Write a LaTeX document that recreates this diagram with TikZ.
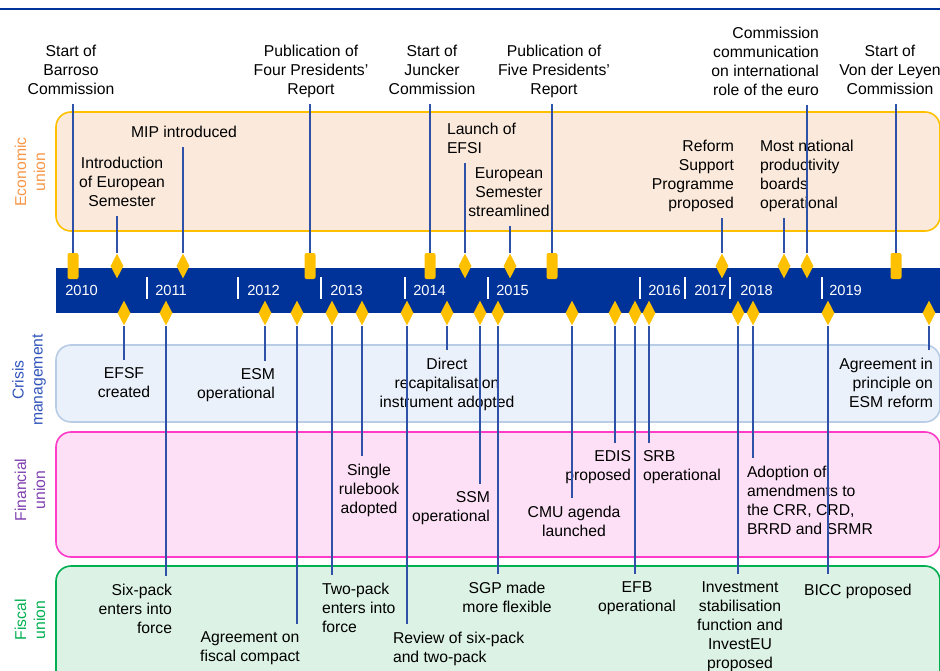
\documentclass[tikz,border=0pt]{standalone}
\usepackage{fontspec}
\setmainfont{Liberation Sans}
\usepackage{tikz}
\usetikzlibrary{shapes.geometric}

\definecolor{eublue}{RGB}{0,51,153}
\definecolor{evgold}{RGB}{255,192,0}
\definecolor{linkblue}{RGB}{47,82,168}
\definecolor{econfill}{RGB}{251,234,220}
\definecolor{econline}{RGB}{255,192,0}
\definecolor{econtext}{RGB}{247,150,70}
\definecolor{crisfill}{RGB}{235,241,250}
\definecolor{crisline}{RGB}{184,204,230}
\definecolor{cristext}{RGB}{48,84,186}
\definecolor{finfill}{RGB}{253,224,245}
\definecolor{finline}{RGB}{255,60,200}
\definecolor{fintext}{RGB}{128,64,176}
\definecolor{fiscfill}{RGB}{220,242,228}
\definecolor{fiscline}{RGB}{0,176,80}

\newcommand\evfont{\fontsize{11.8}{14.25}\selectfont}
\newcommand\yrfont{\fontsize{11}{13}\selectfont}

\begin{document}
\begin{tikzpicture}[x=0.75pt, y=-0.75pt, font=\evfont,
  evtext/.style={inner sep=0pt, outer xsep=0pt, outer ysep=3pt, execute at begin node=\strut, execute at end node=\strut},
  evlow/.style={evtext, outer ysep=6pt},
  evbar/.style={rectangle, fill=evgold, rounded corners=1.5pt, minimum width=8.25pt, minimum height=19.5pt, inner sep=0pt},
  evdia/.style={diamond, fill=evgold, minimum width=9.75pt, minimum height=18.75pt, inner sep=0pt},
  link/.style={draw=linkblue, line width=0.8pt},
  lane/.style={line width=1.2pt, rounded corners=11.25pt},
  lanelab/.style={rotate=90, align=center, inner sep=0pt},
  yrlab/.style={white, anchor=west, inner sep=0pt, font=\yrfont}]
  \useasboundingbox (0,0) rectangle (940,671);
  \draw[eublue, line width=1.5pt] (0,9) -- (940,9);

  % lanes
  \draw[lane, draw=econline, fill=econfill] (56,112) rectangle (940,231);
  \draw[lane, draw=crisline, fill=crisfill] (56,345) rectangle (940,422);
  \draw[lane, draw=finline, fill=finfill] (56,432) rectangle (940,557);
  \draw[lane, draw=fiscline, fill=fiscfill] (56,566) rectangle (940,690);
  \node[lanelab, text=econtext] (econ) at (30,172) {Economic\\union};
  \node[lanelab, text=cristext] (cris) at (29,380) {Crisis\\management};
  \node[lanelab, text=fintext] (fin) at (30,490) {Financial\\union};
  \node[lanelab, text=fiscline] (fisc) at (30,620) {Fiscal\\union};

  % timeline
  \fill[eublue] (56,268) rectangle (945,313);
  \foreach \x in {147,238,321,405,488,640,685,730,822}
    \draw[white, line width=1.2pt] (\x,277) -- (\x,299);
  \foreach \x/\yr in {65/2010,155/2011,247/2012,330/2013,413/2014,496/2015,648/2016,694/2017,740/2018,829/2019}
    \node[yrlab] (y\yr) at (\x,290.5) {\yr};

  % events above the timeline
  \node[evbar] (barroso) at (73,266) {};
  \node[evdia] (introes) at (117,266) {};
  \node[evdia] (mip) at (183,266) {};
  \node[evbar] (fourpr) at (310,266) {};
  \node[evbar] (juncker) at (430,266) {};
  \node[evdia] (efsi) at (465,266) {};
  \node[evdia] (esstream) at (510,266) {};
  \node[evbar] (fivepr) at (552,266) {};
  \node[evdia] (rsp) at (722,266) {};
  \node[evdia] (npb) at (784,266) {};
  \node[evdia] (intlrole) at (807,266) {};
  \node[evbar] (vdl) at (896,266) {};

  \node[evtext, anchor=south, align=center] (barrosot) at (71,104) {Start of\\Barroso\\Commission};
  \node[evtext, anchor=south, align=center] (introest) at (122,216) {Introduction\\of European\\Semester};
  \node[evtext, anchor=south, align=center] (mipt) at (184,147) {MIP introduced};
  \node[evtext, anchor=south, align=center] (fourprt) at (311,104) {Publication of\\Four Presidents'\\Report};
  \node[evtext, anchor=south, align=center] (junckert) at (432,104) {Start of\\Juncker\\Commission};
  \node[evtext, anchor=south west, align=left] (efsit) at (447,163) {Launch of\\EFSI};
  \node[evtext, anchor=south, align=center] (esstreamt) at (509,226) {European\\Semester\\streamlined};
  \node[evtext, anchor=south, align=center] (fiveprt) at (554,104) {Publication of\\Five Presidents'\\Report};
  \node[evtext, anchor=south east, align=right] (rspt) at (734,218) {Reform\\Support\\Programme\\proposed};
  \node[evtext, anchor=south west, align=left] (npbt) at (760,218) {Most national\\productivity\\boards\\operational};
  \node[evtext, anchor=south east, align=right] (intlrolet) at (819,105) {Commission\\communication\\on international\\role of the euro};
  \node[evtext, anchor=south, align=center] (vdlt) at (890,104) {Start of\\Von der Leyen\\Commission};

  % events below the timeline
  \node[evdia] (efsf) at (124,313) {};
  \node[evdia] (sixpack) at (166,313) {};
  \node[evdia] (esm) at (265,313) {};
  \node[evdia] (compact) at (297,313) {};
  \node[evdia] (twopack) at (332,313) {};
  \node[evdia] (rulebook) at (362,313) {};
  \node[evdia] (review) at (407,313) {};
  \node[evdia] (recap) at (447,313) {};
  \node[evdia] (ssm) at (480,313) {};
  \node[evdia] (sgp) at (498,313) {};
  \node[evdia] (cmu) at (572,313) {};
  \node[evdia] (edis) at (615,313) {};
  \node[evdia] (efb) at (635,313) {};
  \node[evdia] (srb) at (649,313) {};
  \node[evdia] (investeu) at (738,313) {};
  \node[evdia] (crr) at (753,313) {};
  \node[evdia] (bicc) at (828,313) {};
  \node[evdia] (esmref) at (929,313) {};

  \node[evlow, anchor=north, align=center] (efsft) at (124,360) {EFSF\\created};
  \node[evlow, anchor=north east, align=right] (sixpackt) at (172,576) {Six-pack\\enters into\\force};
  \node[evlow, anchor=north east, align=right] (esmt) at (275,361) {ESM\\operational};
  \node[evlow, anchor=north, align=center] (compactt) at (250,624) {Agreement on\\fiscal compact};
  \node[evlow, anchor=north west, align=left] (twopackt) at (322,575) {Two-pack\\enters into\\force};
  \node[evlow, anchor=north, align=center] (rulebookt) at (369,456) {Single\\rulebook\\adopted};
  \node[evlow, anchor=north west, align=left] (reviewt) at (393,624) {Review of six-pack\\and two-pack};
  \node[evlow, anchor=north, align=center] (recapt) at (447,350) {Direct\\recapitalisation\\instrument adopted};
  \node[evlow, anchor=north east, align=right] (ssmt) at (490,484) {SSM\\operational};
  \node[evlow, anchor=north, align=center] (sgpt) at (507,574) {SGP made\\more flexible};
  \node[evlow, anchor=north, align=center] (cmut) at (574,498) {CMU agenda\\launched};
  \node[evlow, anchor=north east, align=right] (edist) at (631,443) {EDIS\\proposed};
  \node[evlow, anchor=north, align=center] (efbt) at (637,574) {EFB\\operational};
  \node[evlow, anchor=north west, align=left] (srbt) at (643,443) {SRB\\operational};
  \node[evlow, anchor=north, align=center] (investeut) at (740,574) {Investment\\stabilisation\\function and\\InvestEU\\proposed};
  \node[evlow, anchor=north west, align=left] (crrt) at (747,458) {Adoption of\\amendments to\\the CRR, CRD,\\BRRD and SRMR};
  \node[evlow, anchor=north west, align=left] (bicct) at (804,574) {BICC proposed};
  \node[evlow, anchor=north east, align=right] (esmreft) at (933,350) {Agreement in\\principle on\\ESM reform};

  % connectors
  \foreach \ev in {barroso,introes,mip,fourpr,juncker,efsi,esstream,fivepr,rsp,npb,intlrole,vdl}
    \draw[link] (\ev) -- (\ev |- \ev t.south);
  \foreach \ev in {efsf,sixpack,esm,compact,twopack,rulebook,review,recap,ssm,sgp,cmu,edis,efb,srb,investeu,crr,bicc,esmref}
    \draw[link] (\ev) -- (\ev |- \ev t.north);
\end{tikzpicture}
\end{document}
